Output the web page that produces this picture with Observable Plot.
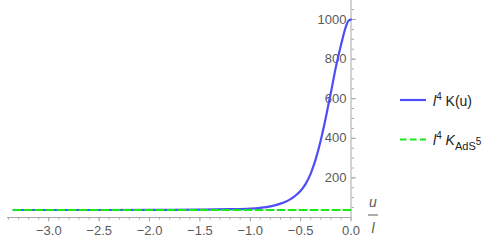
<!DOCTYPE html>
<html>
<head>
<meta charset="utf-8">
<script src="https://cdn.jsdelivr.net/npm/d3@7"></script>
<script src="https://cdn.jsdelivr.net/npm/@observablehq/plot@0.6"></script>
<style>
  html, body { margin: 0; padding: 0; background: white; }
  #chart { width: 500px; height: 242px; }
</style>
</head>
<body>
<div id="chart"></div>
<script>
// Data
const uValues = [-3.35, -2.5, -2.0, -1.5, -1.2, -1.0, -0.9, -0.8, -0.7, -0.65, -0.6, -0.55, -0.5, -0.45, -0.4, -0.35, -0.3, -0.25, -0.2, -0.15, -0.1, -0.05, -0.025, 0];
const kValues = [38, 38, 38.5, 39.5, 42, 45, 49, 56, 70, 80, 93, 111, 135, 170, 222, 295, 390, 505, 630, 760, 870, 965, 994, 1000];
const kAdS5 = 38;
const xMajorTicks = [-3.0, -2.5, -2.0, -1.5, -1.0, -0.5, 0.0];
const xMinorTicks = d3.range(-34, 1).map(d => d / 10);
const yMajorTicks = [200, 400, 600, 800, 1000];
const yMinorTicks = d3.range(50, 1100, 50);
const seriesNames = ["K(u)", "AdS"];

const curve = uValues.map((u, i) => ({u, k: kValues[i]}));
const flat = [{u: uValues[0], k: kAdS5}, {u: uValues[uValues.length - 1], k: kAdS5}];

const blue = "#4d4dfa";
const green = "#19ea19";
const axisGray = "#a8a8a8";
const labelGray = "#5a5a5a";

const svg = Plot.plot({
  width: 500,
  height: 242,
  marginLeft: 7,
  marginRight: 149.5,
  marginTop: 0,
  marginBottom: 25,
  x: {domain: [-3.41, 0]},
  y: {domain: [0, 1096]},
  style: {fontFamily: "'Liberation Sans', Arial, sans-serif", fontSize: "13px", color: labelGray, background: "white", overflow: "visible"},
  marks: [
    Plot.axisX({ticks: xMinorTicks, tickSize: 2.5, tickFormat: () => "", label: null, stroke: axisGray}),
    Plot.axisX({ticks: xMajorTicks, tickSize: 4.5, tickPadding: 4, tickFormat: d3.format(".1f"), label: null, stroke: axisGray, fill: labelGray}),
    Plot.axisY({anchor: "right", ticks: yMinorTicks, tickSize: 2.5, tickFormat: () => "", label: null, stroke: axisGray}),
    Plot.axisY({anchor: "right", ticks: yMajorTicks, tickSize: 4.5, tickFormat: () => "", label: null, stroke: axisGray}),
    Plot.text(yMajorTicks, {x: 0, y: d => d, text: d => String(d), textAnchor: "end", dx: -4.5, fill: labelGray}),
    Plot.ruleY([0], {stroke: axisGray}),
    Plot.ruleX([0], {stroke: axisGray}),
    Plot.line(curve, {x: "u", y: "k", stroke: blue, strokeWidth: 2.2, curve: "monotone-x"}),
    Plot.line(flat, {x: "u", y: "k", stroke: green, strokeWidth: 2.2, strokeDasharray: "7,4"})
  ]
});

document.getElementById("chart").appendChild(svg);

const g = d3.select(svg).append("g")
  .attr("font-family", "'Liberation Sans', Arial, sans-serif")
  .attr("text-anchor", "start");

// axis label u / l
g.append("text").attr("x", 373).attr("y", 207).attr("text-anchor", "middle")
  .attr("font-style", "italic").attr("font-size", 14).attr("fill", labelGray).text("u");
g.append("line").attr("x1", 368).attr("x2", 378).attr("y1", 215).attr("y2", 215)
  .attr("stroke", labelGray).attr("stroke-width", 1);
g.append("text").attr("x", 373).attr("y", 233).attr("text-anchor", "middle")
  .attr("font-style", "italic").attr("font-size", 14).attr("fill", labelGray).text("l");

// legend
g.append("line").attr("x1", 400).attr("x2", 426).attr("y1", 100).attr("y2", 100)
  .attr("stroke", blue).attr("stroke-width", 2.2);
const t1 = g.append("text").attr("x", 433).attr("y", 106).attr("font-size", 14).attr("fill", "#222");
t1.append("tspan").attr("font-style", "italic").text("l");
t1.append("tspan").attr("font-size", 10).attr("dy", -6).text("4");
t1.append("tspan").attr("dy", 6).text(" " + seriesNames[0]);

g.append("line").attr("x1", 400).attr("x2", 426).attr("y1", 139.5).attr("y2", 139.5)
  .attr("stroke", green).attr("stroke-width", 2.2).attr("stroke-dasharray", "6.5,3.5");
const t2 = g.append("text").attr("x", 433).attr("y", 145).attr("font-size", 14).attr("fill", "#222");
t2.append("tspan").attr("font-style", "italic").text("l");
t2.append("tspan").attr("font-size", 10).attr("dy", -6).text("4");
t2.append("tspan").attr("dy", 6).attr("font-style", "italic").text(" K");
t2.append("tspan").attr("font-size", 11).attr("dy", 5).text(seriesNames[1]);
t2.append("tspan").attr("font-size", 10).attr("dy", -5).text("5");
</script>
</body>
</html>
